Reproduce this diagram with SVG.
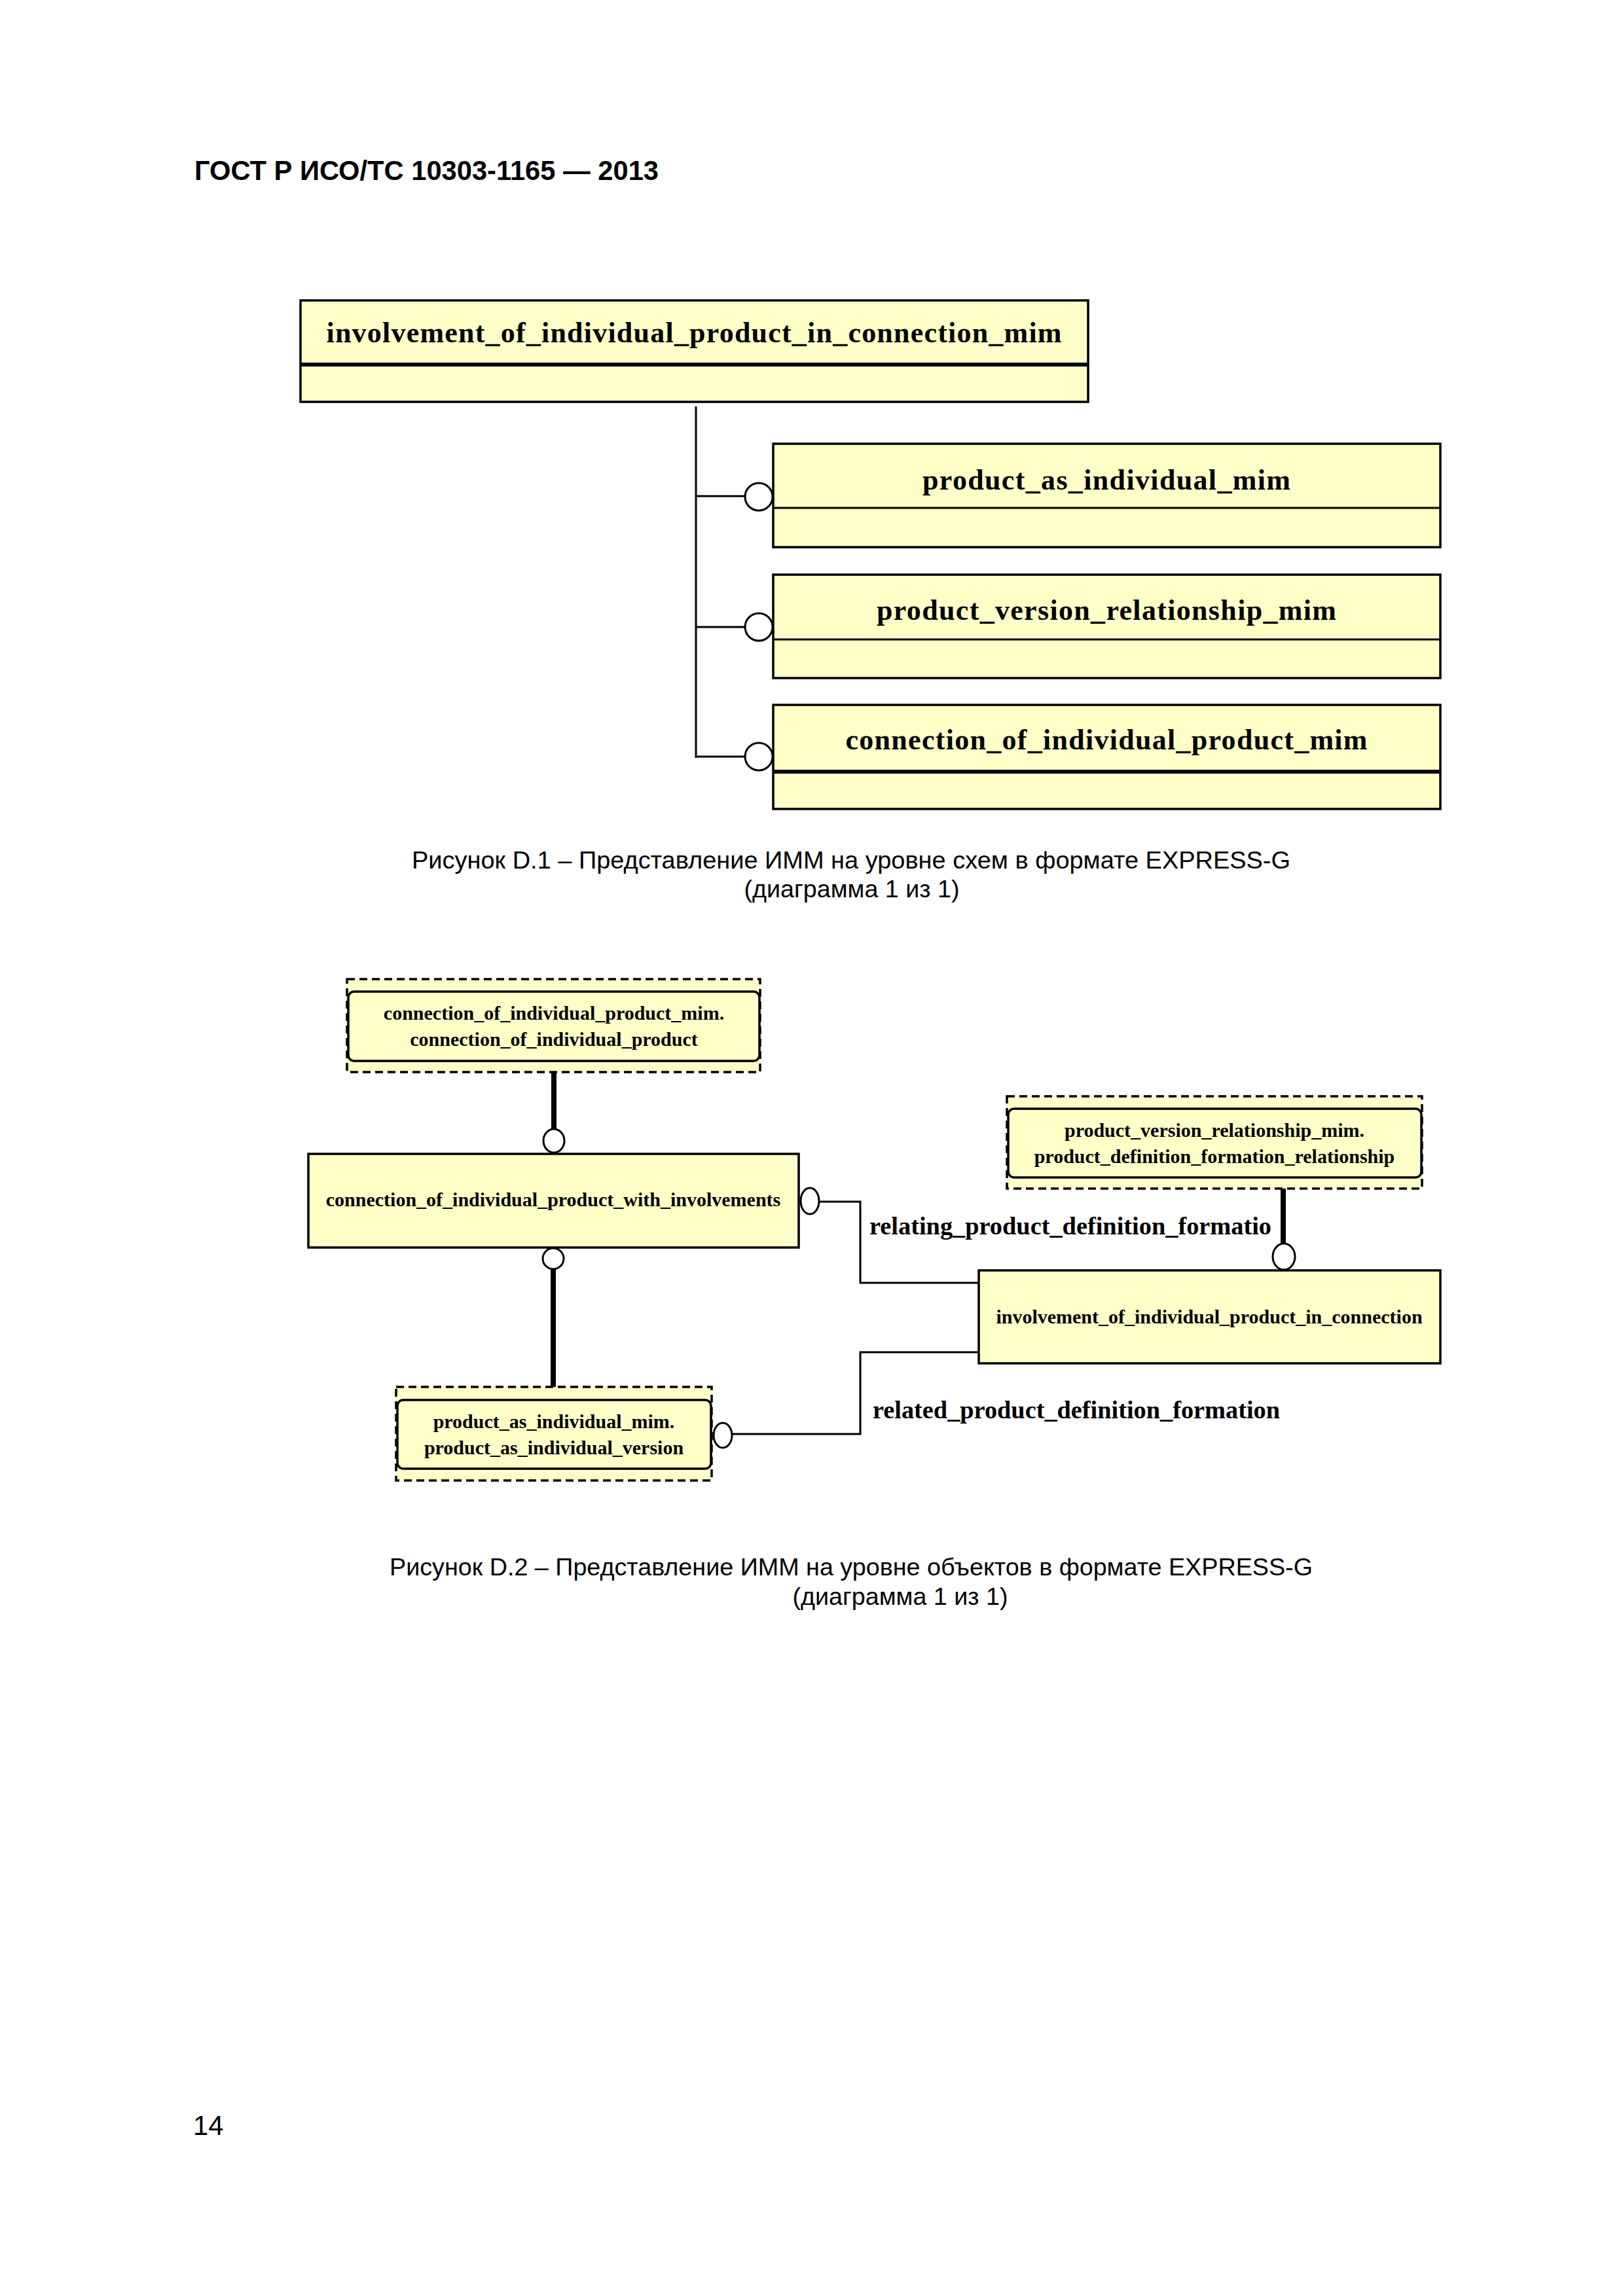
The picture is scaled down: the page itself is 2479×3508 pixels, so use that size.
<svg xmlns="http://www.w3.org/2000/svg" width="2479" height="3508" viewBox="0 0 2479 3508">
<style>
.page{font-family:"Liberation Sans",Arial,sans-serif;font-size:41.7px;fill:#000}
.hdr{font-weight:bold}
.cap{text-anchor:middle;font-size:37.8px}
.box{fill:#FFFFC8;stroke:#000;stroke-width:3.5}
.sep{stroke:#000;stroke-width:3;fill:none}
.sepk{stroke:#000;stroke-width:6;fill:none}
.t1{font-family:"Liberation Serif","Times New Roman",serif;font-weight:bold;font-size:44px;text-anchor:middle;fill:#000}
.t2{font-family:"Liberation Serif","Times New Roman",serif;font-weight:bold;font-size:30px;text-anchor:middle;fill:#000}
.lbl{font-family:"Liberation Serif","Times New Roman",serif;font-weight:bold;font-size:38px;fill:#000}
.ln{stroke:#000;stroke-width:3;fill:none}
.thk{stroke:#000;stroke-width:8;fill:none}
.circ{fill:#fff;stroke:#000;stroke-width:3}
.dash{fill:#FFFFC8;stroke:#000;stroke-width:3.5;stroke-dasharray:12 7}
.inner{fill:none;stroke:#000;stroke-width:3.5}
</style>

<text class="page hdr" x="297" y="275">ГОСТ Р ИСО/ТС 10303-1165 — 2013</text>

<!-- Diagram D.1 -->
<g id="connectors1">
  <line class="ln" x1="1063" y1="621" x2="1063" y2="1158"/>
  <line class="ln" x1="1063" y1="758" x2="1138" y2="758"/>
  <line class="ln" x1="1063" y1="958" x2="1138" y2="958"/>
  <line class="ln" x1="1063" y1="1156" x2="1138" y2="1156"/>
  <ellipse class="circ" cx="1159" cy="759" rx="21" ry="21"/>
  <ellipse class="circ" cx="1159" cy="958" rx="21" ry="21"/>
  <ellipse class="circ" cx="1159" cy="1156" rx="21" ry="21"/>
</g>

<g id="schema_involvement">
  <rect class="box" x="459" y="459" width="1203" height="155"/>
  <line class="sepk" x1="459" y1="557" x2="1662" y2="557"/>
  <text class="t1" x="1060" y="523" textLength="1123" lengthAdjust="spacing">involvement_of_individual_product_in_connection_mim</text>
</g>
<g id="schema_product_as_individual">
  <rect class="box" x="1181" y="678" width="1019" height="158"/>
  <line class="sep" x1="1181" y1="776" x2="2200" y2="776"/>
  <text class="t1" x="1690" y="748" textLength="562" lengthAdjust="spacing">product_as_individual_mim</text>
</g>
<g id="schema_product_version_relationship">
  <rect class="box" x="1181" y="878" width="1019" height="158"/>
  <line class="sep" x1="1181" y1="977" x2="2200" y2="977"/>
  <text class="t1" x="1690" y="947" textLength="702" lengthAdjust="spacing">product_version_relationship_mim</text>
</g>
<g id="schema_connection_of_individual_product">
  <rect class="box" x="1181" y="1077" width="1019" height="159"/>
  <line class="sepk" x1="1181" y1="1179" x2="2200" y2="1179"/>
  <text class="t1" x="1690" y="1145" textLength="797" lengthAdjust="spacing">connection_of_individual_product_mim</text>
</g>

<text class="page cap" x="1300" y="1327" textLength="1342" lengthAdjust="spacingAndGlyphs">Рисунок  D.1 – Представление ИММ на уровне схем в формате EXPRESS-G</text>
<text class="page cap" x="1301" y="1371" textLength="329" lengthAdjust="spacingAndGlyphs">(диаграмма 1 из 1)</text>

<!-- Diagram D.2 -->
<g id="connectors2">
  <line class="thk" x1="846" y1="1638" x2="846" y2="1726"/>
  <ellipse class="circ" cx="846" cy="1743" rx="16" ry="18" stroke-width="2.5"/>
  <ellipse class="circ" cx="845" cy="1923" rx="16" ry="16" stroke-width="2.5"/>
  <line class="thk" x1="845" y1="1939" x2="845" y2="2119"/>
  <ellipse class="circ" cx="1237" cy="1835" rx="14" ry="20" stroke-width="2.5"/>
  <polyline class="ln" points="1251,1836 1314,1836 1314,1960 1495,1960"/>
  <ellipse class="circ" cx="1104" cy="2193" rx="14" ry="19" stroke-width="2.5"/>
  <polyline class="ln" points="1118,2191 1314,2191 1314,2066 1495,2066"/>
  <line class="thk" x1="1960" y1="1816" x2="1960" y2="1901" stroke-width="11"/>
  <ellipse class="circ" cx="1961" cy="1920" rx="17" ry="20" stroke-width="4"/>
  <text class="lbl" x="1328" y="1886" textLength="614" lengthAdjust="spacingAndGlyphs">relating_product_definition_formatio</text>
  <text class="lbl" x="1333" y="2167" textLength="622" lengthAdjust="spacingAndGlyphs">related_product_definition_formation</text>
</g>

<g id="ref_connection_of_individual_product">
  <rect class="dash" x="530" y="1496" width="631" height="142"/>
  <rect class="inner" x="532" y="1515" width="628" height="106" rx="9"/>
  <text class="t2" x="846" y="1558">connection_of_individual_product_mim.</text>
  <text class="t2" x="846" y="1598">connection_of_individual_product</text>
</g>
<g id="connection_of_individual_product_with_involvements">
  <rect class="box" x="471" y="1763" width="749" height="143" stroke-width="4"/>
  <text class="t2" x="845" y="1843">connection_of_individual_product_with_involvements</text>
</g>
<g id="ref_product_as_individual_version">
  <rect class="dash" x="605" y="2119" width="482" height="143"/>
  <rect class="inner" x="607" y="2139" width="479" height="105" rx="9"/>
  <text class="t2" x="846" y="2182">product_as_individual_mim.</text>
  <text class="t2" x="846" y="2222">product_as_individual_version</text>
</g>
<g id="ref_product_definition_formation_relationship">
  <rect class="dash" x="1538" y="1675" width="634" height="141"/>
  <rect class="inner" x="1540" y="1694" width="631" height="105" rx="9"/>
  <text class="t2" x="1855" y="1737">product_version_relationship_mim.</text>
  <text class="t2" x="1855" y="1777">product_definition_formation_relationship</text>
</g>
<g id="involvement_of_individual_product_in_connection">
  <rect class="box" x="1495" y="1941" width="705" height="142"/>
  <text class="t2" x="1847" y="2022">involvement_of_individual_product_in_connection</text>
</g>

<text class="page cap" x="1300" y="2407" textLength="1410" lengthAdjust="spacingAndGlyphs">Рисунок D.2 – Представление ИММ на уровне объектов в формате EXPRESS-G</text>
<text class="page cap" x="1375" y="2452" textLength="329" lengthAdjust="spacingAndGlyphs">(диаграмма 1 из 1)</text>

<text class="page" x="295" y="3262">14</text>
</svg>
